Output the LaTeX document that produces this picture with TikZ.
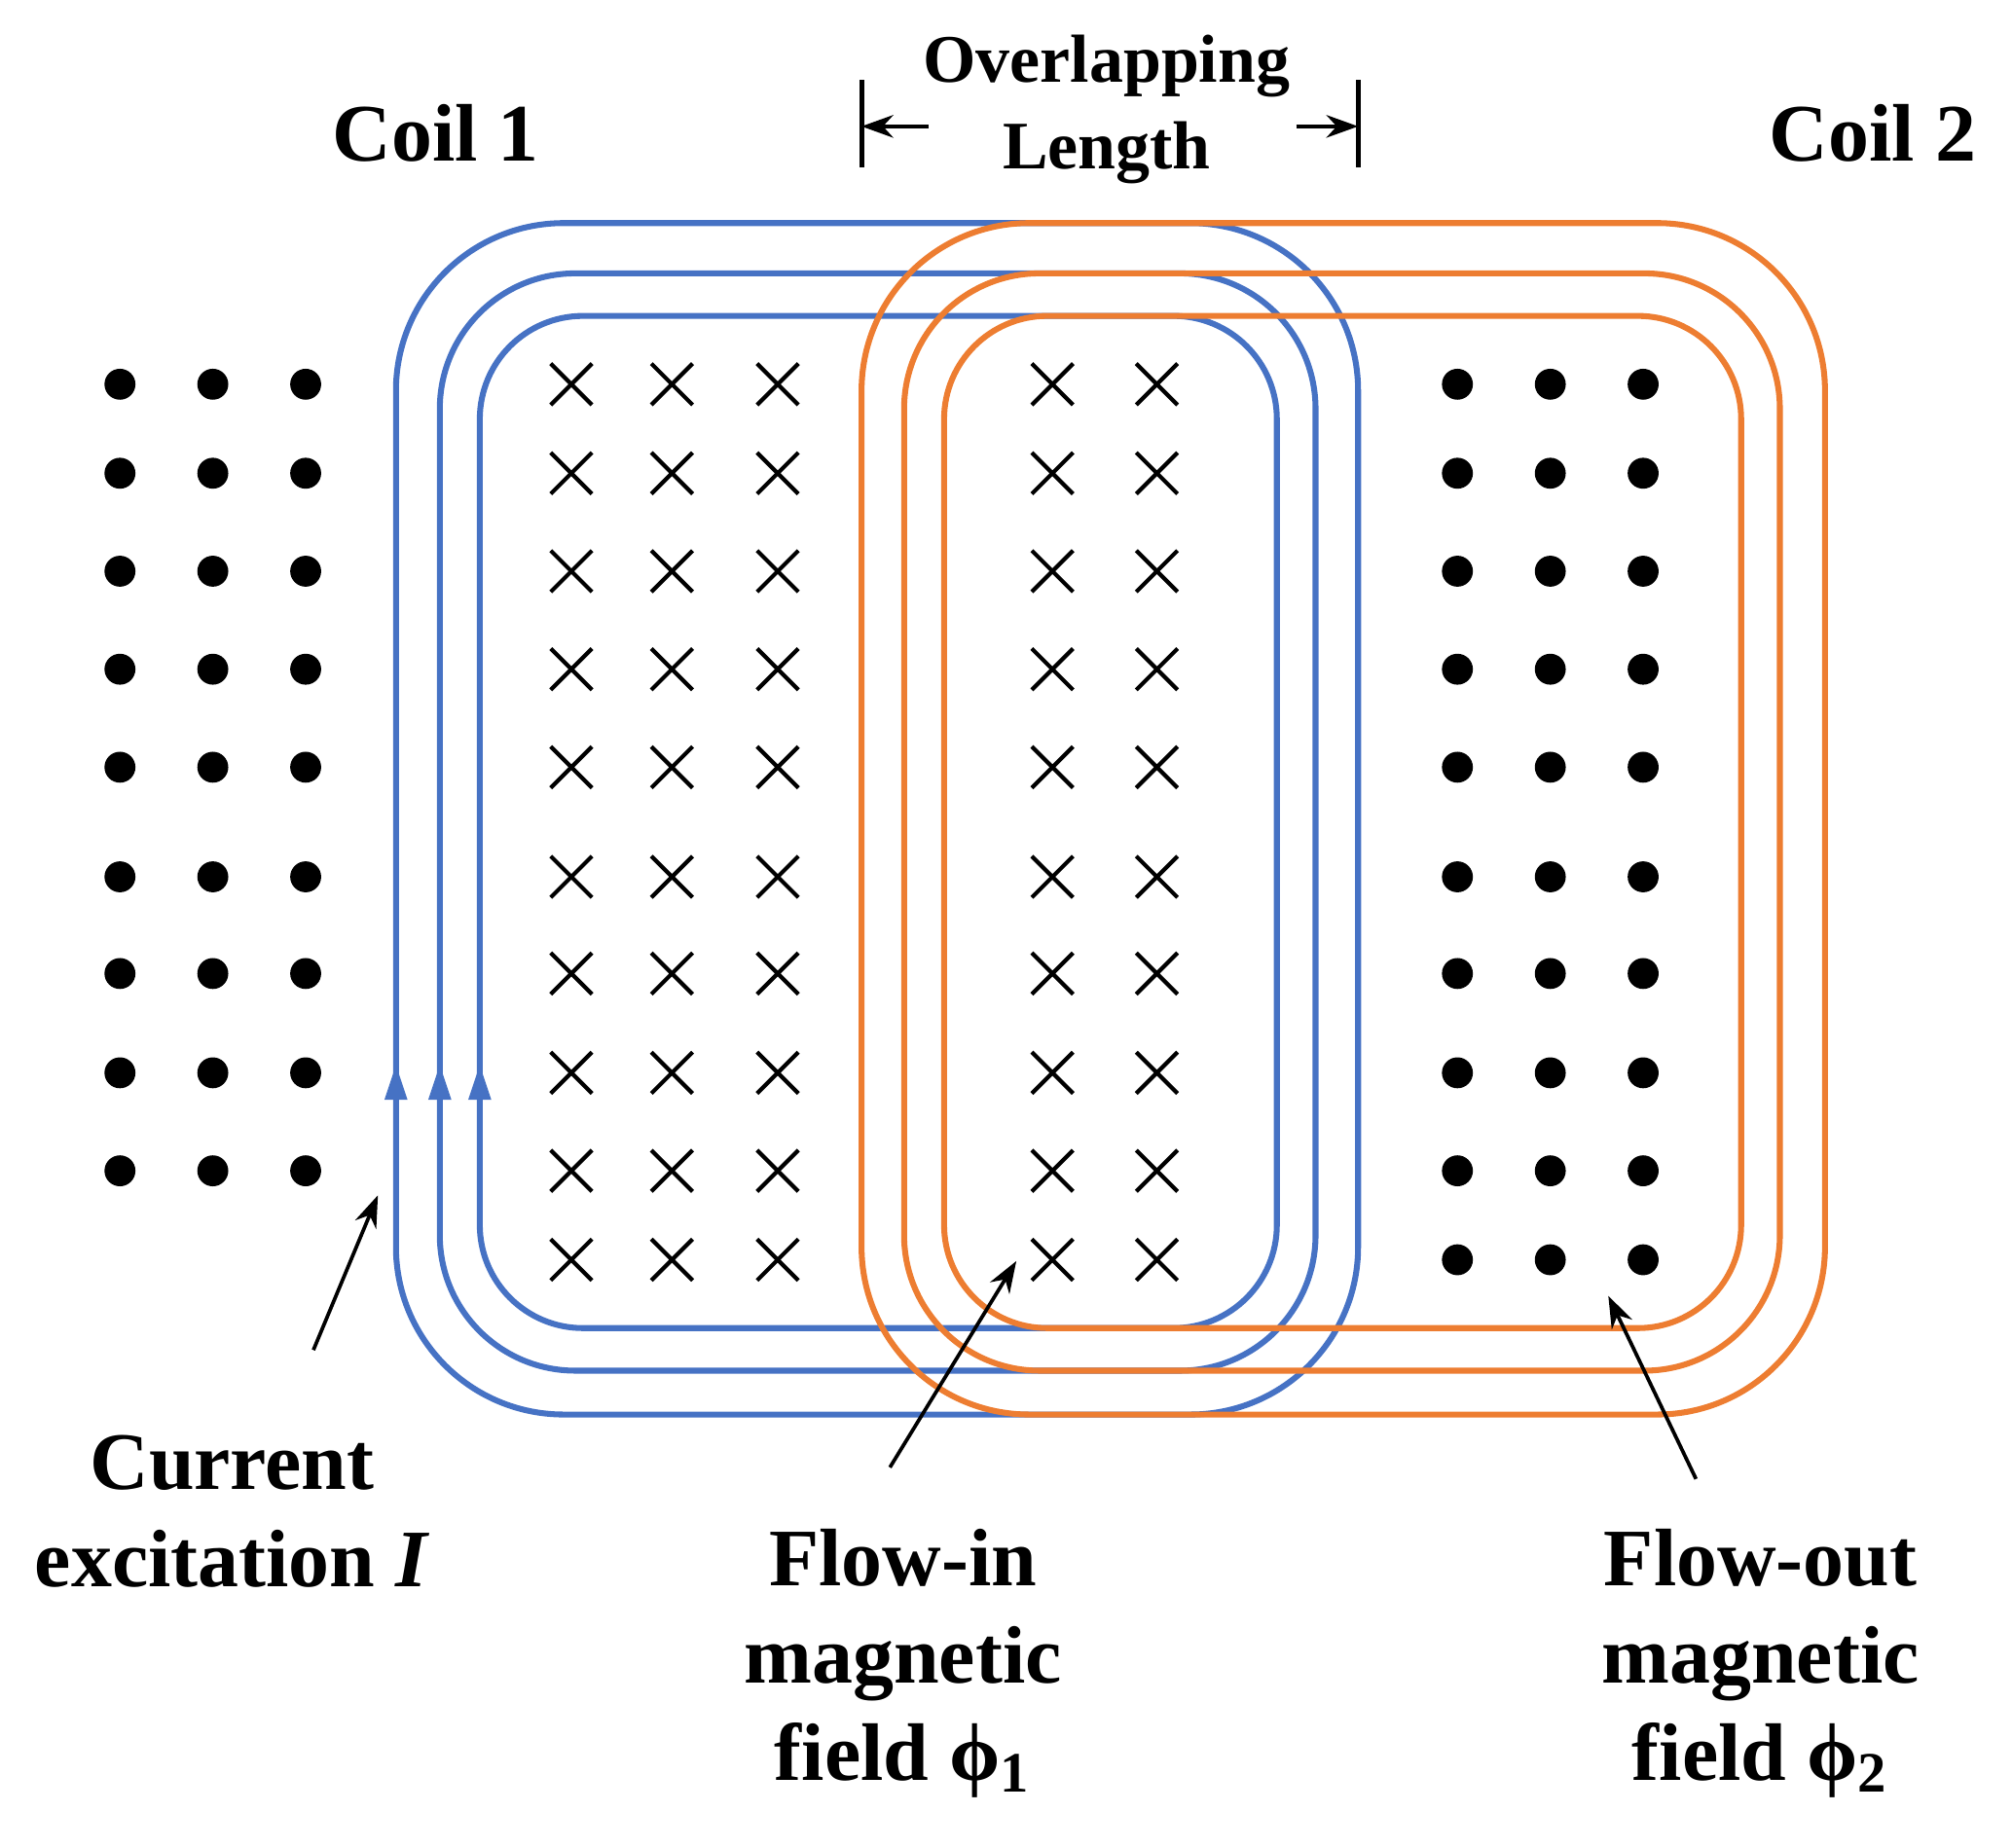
\documentclass[tikz,border=0pt]{standalone}
\usepackage{fontspec}
\setmainfont{Liberation Serif}
\usetikzlibrary{arrows.meta}
\definecolor{coilblue}{RGB}{70,114,196}
\definecolor{coilorange}{RGB}{237,125,49}
\begin{document}
\begin{tikzpicture}[x=0.01cm,y=-0.01cm,
  lbl/.style={font=\bfseries\fontsize{18}{21.5}\selectfont,align=center},
  cross/.style={line width=0.9pt},
  bl/.style={coilblue,line width=1.3pt},
  og/.style={coilorange,line width=1.3pt},
  pt/.style={-{Stealth[length=7pt,width=5pt]},line width=0.8pt}]
\useasboundingbox (0,0) rectangle (1560,1433);
% dots
\foreach \y in {298,367,443,519,595,680,755,832,908}
  \foreach \x in {93,165,237} \fill (\x,\y) circle (12);
\foreach \y in {298,367,443,519,595,680,755,832,908,977}
  \foreach \x in {1130,1202,1274} \fill (\x,\y) circle (12);
% crosses
\foreach \y in {298,367,443,519,595,680,755,832,908,977}
  \foreach \x in {443,521,603,816,897}
    \draw[cross] (\x-16,\y-16) -- (\x+16,\y+16) (\x-16,\y+16) -- (\x+16,\y-16);
% coil 1
\draw[bl,rounded corners=1.3cm] (307,173) rectangle (1053,1097);
\draw[bl,rounded corners=1.05cm] (341,212) rectangle (1020,1063);
\draw[bl,rounded corners=0.8cm] (372,245) rectangle (990,1030);
\foreach \x in {307,341,372}
  \fill[coilblue] (\x-9,853) -- (\x+9,853) -- (\x,826) -- cycle;
% coil 2
\draw[og,rounded corners=1.3cm] (668,173) rectangle (1415,1097);
\draw[og,rounded corners=1.05cm] (701,212) rectangle (1380,1063);
\draw[og,rounded corners=0.8cm] (732,245) rectangle (1350,1030);
% labels
\node[lbl] (c1) at (338,103) {Coil 1};
\node[lbl] (c2) at (1452,103) {Coil 2};
\node[lbl,font=\bfseries\fontsize{15}{19}\selectfont] (ov) at (858,85) {Overlapping\\Length};
\draw[line width=1.1pt] (668,62) -- (668,130) (1053,62) -- (1053,130);
\coordinate (ovl) at (668,98);
\coordinate (ovr) at (1053,98);
\draw[pt] (720,98) -- (ovl);
\draw[pt] (1005,98) -- (ovr);
\node[lbl] (cur) at (180,1172) {Current\\excitation \textit{I}};
\node[lbl] (fin) at (700,1290) {Flow-in\\magnetic\\field ϕ\textsubscript{1}};
\node[lbl] (fout) at (1365,1290) {Flow-out\\magnetic\\field ϕ\textsubscript{2}};
\coordinate (a1) at (293,927);
\coordinate (a2) at (788,978);
\coordinate (a3) at (1247,1005);
\draw[pt] (243,1047) -- (a1);
\draw[pt] (690,1138) -- (a2);
\draw[pt] (1315,1147) -- (a3);
\end{tikzpicture}
\end{document}
